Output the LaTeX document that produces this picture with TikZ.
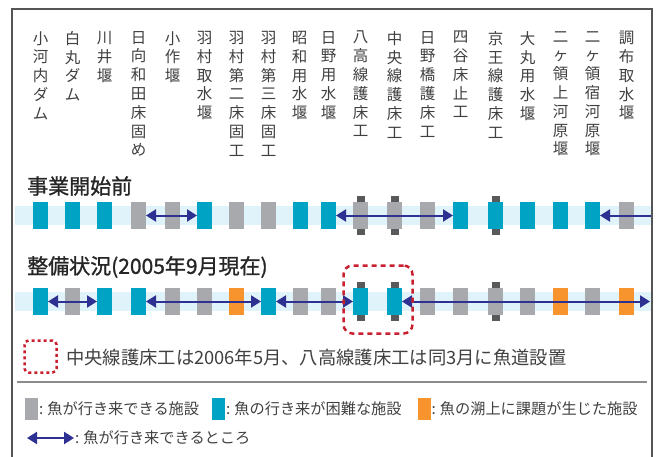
\documentclass[tikz,border=0pt]{standalone}
\usepackage{fontspec}
\setmainfont{Noto Sans CJK JP}
\newfontfamily\headfont{Noto Sans CJK JP}[FakeBold=1.2]
\usetikzlibrary{arrows.meta}
\definecolor{tealf}{HTML}{00A3C4}
\definecolor{grayf}{HTML}{A7A9AC}
\definecolor{orangef}{HTML}{F7942E}
\definecolor{bandc}{HTML}{E1F3FA}
\definecolor{tabc}{HTML}{58595B}
\definecolor{navy}{HTML}{2E3192}
\definecolor{redd}{HTML}{C8202F}
\definecolor{txt}{HTML}{404040}
\definecolor{framec}{HTML}{555555}
\definecolor{sepc}{HTML}{8C8C8C}
\begin{document}
\begin{tikzpicture}[x=1pt,y=-1pt,
  fac/.style={minimum width=15pt, minimum height=27pt, inner sep=0pt, outer sep=0pt, fill=#1},
  tabst/.style={minimum width=8pt, minimum height=6pt, inner sep=0pt, outer sep=0pt, fill=tabc},
  lab/.style={anchor=north, align=center, inner sep=0pt, text=txt, font=\fontsize{15.5}{18.8}\selectfont},
  head/.style={anchor=west, inner sep=0pt, text=black!85, font=\headfont\fontsize{21}{25}\selectfont},
  note/.style={anchor=west, inner sep=0pt, text=txt, font=\fontsize{18.3}{22}\selectfont},
  legt/.style={anchor=west, inner sep=0pt, text=txt, font=\fontsize{15.2}{18}\selectfont},
  darrow/.style={navy, line width=2pt, {Triangle[length=10pt,width=12pt]}-{Triangle[length=10pt,width=12pt]}},
  rarrow/.style={navy, line width=2pt, -{Triangle[length=10pt,width=12pt]}},
  hl/.style={draw=redd, line width=2.5pt, dash pattern=on 5pt off 4pt, rounded corners=9pt, inner sep=0pt}]
\useasboundingbox (0,0) rectangle (658,457);
% frame
\draw[framec, line width=1.2pt] (12,457) -- (12,9) -- (652,9) -- (652,457);
% labels
\foreach \xx/\t [count=\i] in {
 40.5/{小\\河\\内\\ダ\\ム},
 72.5/{白\\丸\\ダ\\ム},
 104.5/{川\\井\\堰},
 138.5/{日\\向\\和\\田\\床\\固\\め},
 172.5/{小\\作\\堰},
 204.5/{羽\\村\\取\\水\\堰},
 236.5/{羽\\村\\第\\二\\床\\固\\工},
 268.5/{羽\\村\\第\\三\\床\\固\\工},
 299.5/{昭\\和\\用\\水\\堰},
 328.5/{日\\野\\用\\水\\堰},
 360.5/{八\\高\\線\\護\\床\\工},
 394.5/{中\\央\\線\\護\\床\\工},
 427.5/{日\\野\\橋\\護\\床\\工},
 460.5/{四\\谷\\床\\止\\工},
 495.5/{京\\王\\線\\護\\床\\工},
 527.5/{大\\丸\\用\\水\\堰},
 560.5/{二\\ヶ\\領\\上\\河\\原\\堰},
 592.5/{二\\ヶ\\領\\宿\\河\\原\\堰},
 626.5/{調\\布\\取\\水\\堰}}
 { \node[lab] (l\i) at (\xx,31) {\t}; }
% headings
\node[head] (h1) at (27,186) {事業開始前};
\node[head] (h2) at (27,267) {整備状況(2005年9月現在)};
% bands
\fill[bandc] (15,206) rectangle (651,225);
\fill[bandc] (15,292) rectangle (651,311);
% facilities
\foreach \xx/\ca/\cb [count=\i] in {
 40.5/tealf/tealf, 72.5/tealf/grayf, 104.5/tealf/tealf, 138.5/grayf/tealf,
 172.5/grayf/grayf, 204.5/tealf/grayf, 236.5/grayf/orangef, 268.5/grayf/tealf,
 300.5/tealf/grayf, 328.5/tealf/grayf, 360.5/grayf/tealf, 394.5/grayf/tealf,
 427.5/grayf/grayf, 460.5/tealf/grayf, 495.5/tealf/grayf, 527.5/tealf/grayf,
 560.5/tealf/orangef, 592.5/tealf/grayf, 626.5/grayf/orangef}
 { \node[fac=\ca] (a\i) at (\xx,215.5) {};
   \node[fac=\cb] (b\i) at (\xx,301.5) {}; }
% dam tabs
\foreach \i in {11,12,15} {
  \node[tabst, anchor=south] (ta\i) at (a\i.north) {};
  \node[tabst, anchor=north] (tb\i) at (a\i.south) {};
  \node[tabst, anchor=south] (tc\i) at (b\i.north) {};
  \node[tabst, anchor=north] (td\i) at (b\i.south) {};
}
% arrows row 1
\coordinate (r1end) at (651,215.5);
\draw[darrow] (a4.east) -- (a6.west);
\draw[darrow] (a10.east) -- (a14.west);
\draw[rarrow] (r1end) -- (a18.east);
% arrows row 2
\coordinate (r2end) at (650,301.5);
\draw[darrow] (b1.east) -- (b3.west);
\draw[darrow] (b4.east) -- (b8.west);
\draw[darrow] (b8.east) -- (b11.west);
\draw[darrow] (b12.east) -- (r2end);
% highlight
\node[hl, minimum width=69pt, minimum height=68pt] (hlbox) at (378,299.5) {};
% note
\node[hl, dash pattern=on 3pt off 3pt, rounded corners=4pt, minimum width=32pt, minimum height=32pt] (nbox) at (40.5,356.5) {};
\node[note] (ntext) at (66,358) {中央線護床工は2006年5月、八高線護床工は同3月に魚道設置};
% separator
\draw[sepc, line width=1.5pt] (17,382) -- (647,382);
% legend
\node[fac=grayf, minimum width=13pt, minimum height=22pt] (lg1) at (31.5,409) {};
\node[legt] (lt1) at (39,409) {:\hspace{4pt}魚が行き来できる施設};
\node[fac=tealf, minimum width=13pt, minimum height=22pt] (lg2) at (218.5,409) {};
\node[legt] (lt2) at (226,409) {:\hspace{4pt}魚の行き来が困難な施設};
\node[fac=orangef, minimum width=13pt, minimum height=22pt] (lg3) at (424,409) {};
\node[legt] (lt3) at (431.5,409) {:\hspace{4pt}魚の溯上に課題が生じた施設};
\coordinate (la1) at (27,438);
\coordinate (la2) at (74,438);
\draw[darrow, line width=2.2pt] (la1) -- (la2);
\node[legt] (lt4) at (75,438) {:\hspace{4pt}魚が行き来できるところ};
\end{tikzpicture}
\end{document}
